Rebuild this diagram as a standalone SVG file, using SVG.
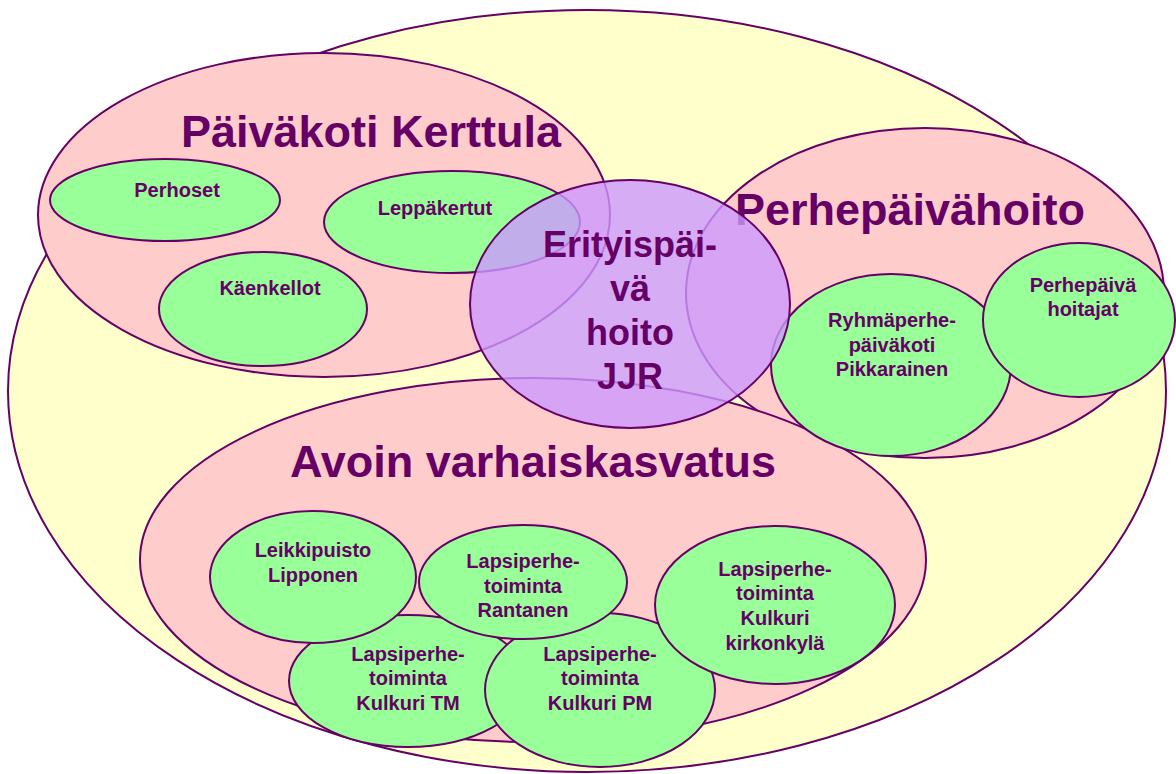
<svg xmlns="http://www.w3.org/2000/svg" width="1176" height="774" viewBox="0 0 1176 774">
<style>
.bg{fill:#FFFFCC;stroke:#660066;stroke-width:2}
.pk{fill:#FFCCCC;stroke:#660066;stroke-width:2}
.gr{fill:#99FF99;stroke:#660066;stroke-width:2}
.pu{fill:#CC99FF;fill-opacity:0.8;stroke:#660066;stroke-width:2}
text{font-family:"Liberation Sans",Arial,sans-serif;font-weight:bold;fill:#660066;text-anchor:middle}
.big{font-size:45px}
.mid{font-size:36px}
.sm{font-size:20px}
</style>
<rect width="1176" height="774" fill="#FFFFFF"/>
<g id="outer"><ellipse class="bg" cx="587" cy="391" rx="579" ry="381"/></g>
<g id="kerttula">
<ellipse class="pk" cx="324" cy="215" rx="286" ry="162"/>
<text class="big" x="371" y="147">Päiväkoti Kerttula</text>
</g>
<g id="perhepaivahoito">
<ellipse class="pk" cx="925" cy="293" rx="239" ry="165"/>
<text class="big" x="910" y="225">Perhepäivähoito</text>
</g>
<g id="avoin">
<ellipse class="pk" cx="533" cy="560" rx="393" ry="182"/>
<text class="big" x="533" y="477">Avoin varhaiskasvatus</text>
</g>
<g id="perhoset"><ellipse class="gr" cx="165" cy="200" rx="115" ry="41"/><text class="sm" x="177" y="197">Perhoset</text></g>
<g id="leppakertut"><ellipse class="gr" cx="452" cy="222" rx="128" ry="51"/><text class="sm" x="435" y="215">Leppäkertut</text></g>
<g id="kaenkellot"><ellipse class="gr" cx="263" cy="309" rx="104" ry="57"/><text class="sm" x="270" y="295">Käenkellot</text></g>
<g id="ryhmaperhe"><ellipse class="gr" cx="891" cy="365" rx="120" ry="91"/>
<text class="sm" x="892" y="327">Ryhmäperhe-</text><text class="sm" x="892" y="352">päiväkoti</text><text class="sm" x="892" y="376">Pikkarainen</text></g>
<g id="hoitajat"><ellipse class="gr" cx="1079" cy="320" rx="96" ry="77"/>
<text class="sm" x="1083" y="292">Perhepäivä</text><text class="sm" x="1083" y="316">hoitajat</text></g>
<g id="kulkuri-tm"><ellipse class="gr" cx="408" cy="681" rx="119" ry="66"/>
<text class="sm" x="408" y="661">Lapsiperhe-</text><text class="sm" x="408" y="685">toiminta</text><text class="sm" x="408" y="710">Kulkuri TM</text></g>
<g id="kulkuri-pm"><ellipse class="gr" cx="600" cy="690" rx="115" ry="77"/>
<text class="sm" x="600" y="661">Lapsiperhe-</text><text class="sm" x="600" y="685">toiminta</text><text class="sm" x="600" y="710">Kulkuri PM</text></g>
<g id="lipponen"><ellipse class="gr" cx="313" cy="577" rx="103" ry="66"/>
<text class="sm" x="313" y="557">Leikkipuisto</text><text class="sm" x="313" y="582">Lipponen</text></g>
<g id="rantanen"><ellipse class="gr" cx="523" cy="582" rx="104" ry="57"/>
<text class="sm" x="523" y="568">Lapsiperhe-</text><text class="sm" x="523" y="593">toiminta</text><text class="sm" x="523" y="617">Rantanen</text></g>
<g id="kirkonkyla"><ellipse class="gr" cx="775" cy="605" rx="120" ry="79"/>
<text class="sm" x="775" y="576">Lapsiperhe-</text><text class="sm" x="775" y="600">toiminta</text><text class="sm" x="775" y="625">Kulkuri</text><text class="sm" x="775" y="650">kirkonkylä</text></g>
<g id="erityis"><ellipse class="pu" cx="630" cy="304" rx="160" ry="124"/>
<text class="mid" x="630" y="257">Erityispäi-</text><text class="mid" x="630" y="301">vä</text><text class="mid" x="630" y="345">hoito</text><text class="mid" x="630" y="389">JJR</text></g>
<g id="connectors"/>
</svg>
